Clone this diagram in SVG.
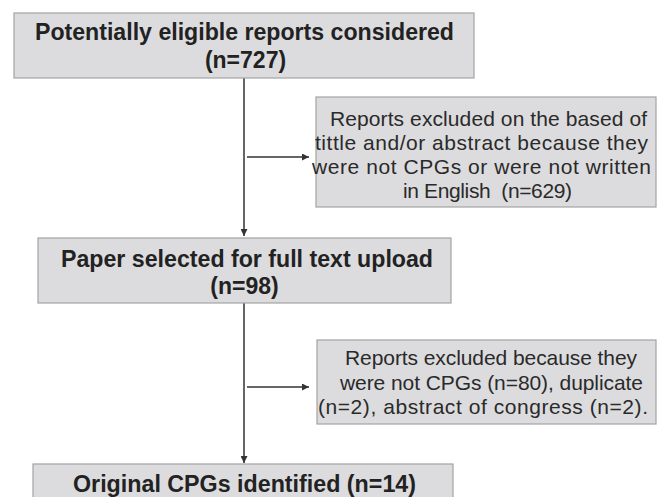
<svg xmlns="http://www.w3.org/2000/svg" width="659" height="497" viewBox="0 0 659 497">
<defs>
<style>
.box{fill:#dcdcde;stroke:#a3a3a3;stroke-width:1.2}
.bt{font-family:"Liberation Sans",Arial,sans-serif;font-weight:bold;font-size:23px;fill:#222;text-anchor:middle}
.rt{font-family:"Liberation Sans",Arial,sans-serif;font-size:21px;fill:#2a2a2a;text-anchor:middle;white-space:pre}
.ln{stroke:#333;stroke-width:1.5;fill:none}
</style>
<marker id="ah" viewBox="0 0 10 10" refX="10" refY="5" markerWidth="7" markerHeight="7" markerUnits="userSpaceOnUse" orient="auto">
<path d="M0,0 L10,5 L0,10 z" fill="#333"/>
</marker>
</defs>
<rect width="659" height="497" fill="#fff"/>
<g id="connectors">
<line class="ln" x1="244" y1="78" x2="244" y2="236" marker-end="url(#ah)"/>
<line class="ln" x1="247" y1="157" x2="309" y2="157" marker-end="url(#ah)"/>
<line class="ln" x1="244" y1="303" x2="244" y2="463" marker-end="url(#ah)"/>
<line class="ln" x1="247" y1="387" x2="309" y2="387" marker-end="url(#ah)"/>
</g>
<g id="n1">
<rect class="box" x="14" y="13" width="460" height="65"/>
<text class="bt" x="244.5" y="40" textLength="419" lengthAdjust="spacingAndGlyphs">Potentially eligible reports considered</text>
<text class="bt" x="245.5" y="67.5">(n=727)</text>
</g>
<g id="n2">
<rect class="box" x="316" y="97" width="340" height="110"/>
<text class="rt" x="488.5" y="126" textLength="317">Reports excluded on the based of</text>
<text class="rt" x="481.5" y="150" textLength="333">tittle and/or abstract because they</text>
<text class="rt" x="481.5" y="174" textLength="339">were not CPGs or were not written</text>
<text class="rt" x="487.5" y="197.5" textLength="169" xml:space="preserve">in English  (n=629)</text>
</g>
<g id="n3">
<rect class="box" x="38" y="238" width="413" height="65"/>
<text class="bt" x="247" y="266.5" textLength="372" lengthAdjust="spacingAndGlyphs">Paper selected for full text upload</text>
<text class="bt" x="244.5" y="294">(n=98)</text>
</g>
<g id="n4">
<rect class="box" x="317" y="340" width="339" height="84"/>
<text class="rt" x="491" y="365" textLength="292">Reports excluded because they</text>
<text class="rt" x="491.5" y="389.5" textLength="303">were not CPGs (n=80), duplicate</text>
<text class="rt" x="483" y="414" textLength="330">(n=2), abstract of congress (n=2).</text>
</g>
<g id="n5">
<rect class="box" x="33" y="464" width="420" height="40"/>
<text class="bt" x="244.5" y="492" textLength="343" lengthAdjust="spacingAndGlyphs">Original CPGs identified (n=14)</text>
</g>
</svg>
